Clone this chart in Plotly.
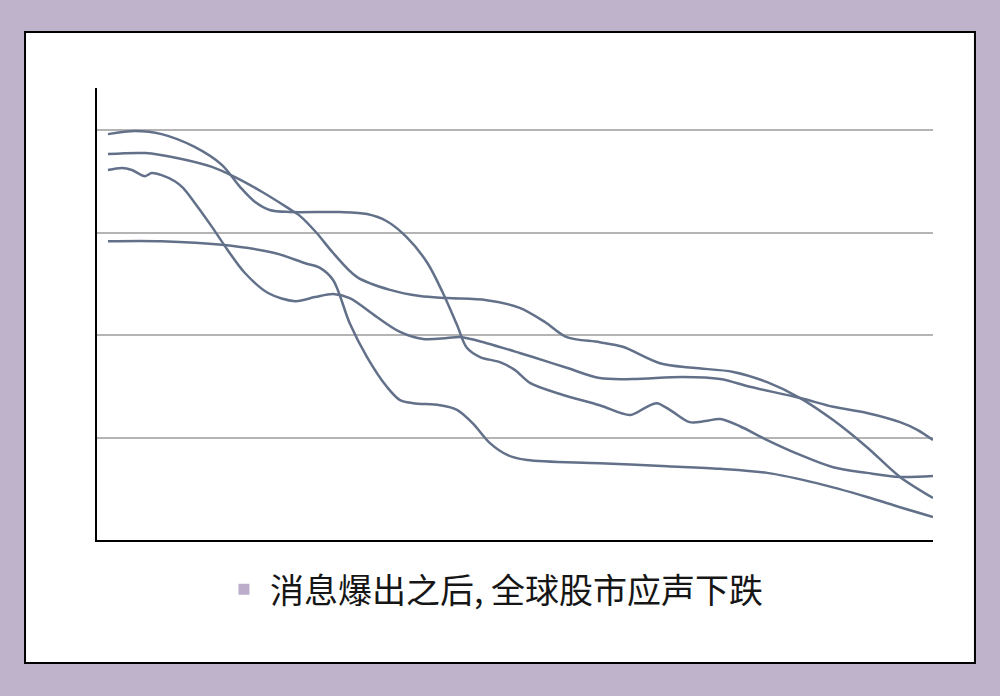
import plotly.graph_objects as go

# four market index curves (x = day 0..100, y = index level)
days_a = [0, 3.3, 6.5, 10.5, 13.8, 16.0, 17.8, 19.6, 22.1, 28.1, 31.4, 33.8, 36.2, 38.7, 40.6, 42.3,
          43.5, 45.1, 47.5, 49.3, 51.2, 54.8, 59.6, 63.3, 65.1, 66.5, 68.1, 70.5, 72.4, 74.2, 76.6,
          79.9, 83.9, 87.9, 92.0, 96.0, 100]
index_a = [79.2, 79.8, 79.2, 76.7, 73.2, 68.9, 66.0, 64.4, 64.0, 64.0, 63.6, 62.2, 59.1, 54.1, 48.2, 42.0,
           37.5, 35.7, 34.7, 33.2, 30.6, 28.5, 26.3, 24.4, 25.8, 26.7, 25.4, 23.0, 23.2, 23.6, 22.2,
           19.5, 16.6, 14.2, 13.1, 12.3, 12.5]

days_b = [0, 4.5, 8.5, 12.6, 15.4, 18.7, 21.8, 23.3, 25.3, 27.3, 30.2, 34.2, 37.8, 41.1, 45.9, 49.9,
          53.0, 55.6, 59.6, 62.4, 66.9, 70.9, 75.8, 79.9, 83.9, 87.9, 92.0, 96.0, 100]
index_b = [75.3, 75.5, 74.5, 72.8, 70.8, 67.9, 64.8, 63.2, 59.9, 56.0, 51.3, 48.8, 47.6, 47.2, 46.8, 45.3,
           42.5, 39.6, 38.6, 37.7, 34.5, 33.6, 32.8, 30.8, 27.7, 23.4, 18.1, 12.3, 8.2]

days_c = [0, 1.7, 2.9, 4.5, 5.3, 6.5, 8.1, 9.1, 10.5, 12.6, 14.5, 16.6, 19.4, 22.7, 25.1, 27.3, 29.3,
          32.6, 35.4, 38.2, 41.1, 42.7, 45.9, 49.9, 51.5, 55.6, 59.6, 63.6, 69.7, 74.2, 77.8, 83.9,
          87.9, 92.0, 96.0, 98.1, 100]
index_c = [72.2, 72.6, 72.2, 71.0, 71.6, 71.2, 70.0, 68.7, 65.8, 61.1, 56.6, 52.1, 48.2, 46.6, 47.4, 48.0,
           47.2, 43.5, 40.6, 39.2, 39.4, 39.6, 38.4, 36.5, 35.7, 33.6, 31.6, 31.4, 31.8, 31.4, 29.9, 27.7,
           26.0, 24.8, 23.0, 21.5, 19.5]

days_d = [0, 6.5, 13.8, 20.2, 23.9, 25.7, 27.3, 29.3, 31.4, 33.8, 35.4, 37.0, 40.2, 42.3, 44.2, 46.3,
          48.4, 50.8, 59.6, 67.8, 74.2, 79.9, 85.9, 92.0, 96.0, 100]
index_d = [58.3, 58.3, 57.6, 56.0, 54.0, 53.1, 50.7, 42.3, 35.7, 29.9, 27.3, 26.7, 26.3, 25.4, 22.8, 18.9,
           16.6, 15.6, 15.0, 14.4, 13.9, 13.1, 11.1, 8.4, 6.4, 4.5]

legend_label = "消息爆出之后, 全球股市应声下跌"
grid_vals = [20, 40, 60, 80]

line_color = "#627189"

fig = go.Figure()
for xs, ys in [(days_a, index_a), (days_b, index_b), (days_c, index_c), (days_d, index_d)]:
    fig.add_trace(go.Scatter(x=xs, y=ys, mode="lines", showlegend=False,
                             line=dict(color=line_color, width=2.5, shape="spline", smoothing=0.9)))

# legend entry (square swatch)
fig.add_trace(go.Scatter(x=[None], y=[None], mode="markers", name=legend_label,
                         marker=dict(symbol="square", size=11, color="#bcaecb")))

# white card with black border
fig.add_shape(type="rect", xref="paper", yref="paper", layer="below",
              x0=-0.0861, x1=1.0502, y0=-0.2721, y1=1.1239,
              fillcolor="white", line=dict(color="black", width=2))

fig.update_layout(
    width=1000, height=696, autosize=False,
    margin=dict(l=97, r=67, t=88, b=156),
    paper_bgcolor="#bfb3cc", plot_bgcolor="rgba(0,0,0,0)",
    font=dict(family="Noto Sans CJK SC, Noto Sans, sans-serif", color="black"),
    showlegend=True,
    legend=dict(x=0.1447, xanchor="left", y=-0.11, yanchor="middle",
                orientation="h", itemwidth=42, font=dict(size=34, color="#161616"),
                bgcolor="rgba(0,0,0,0)"),
)
fig.update_xaxes(range=[-1.33, 100], showgrid=False, zeroline=False, showticklabels=False,
                 ticks="", showline=True, linecolor="black", linewidth=2)
fig.update_yaxes(range=[0, 88.2], tickvals=grid_vals, showgrid=True, gridcolor="#b4b4b4",
                 gridwidth=1.5, zeroline=False, showticklabels=False, ticks="",
                 showline=True, linecolor="black", linewidth=2)

fig.write_html("out.html", config={"displayModeBar": False},
               post_script="document.body.style.margin='0px';")
